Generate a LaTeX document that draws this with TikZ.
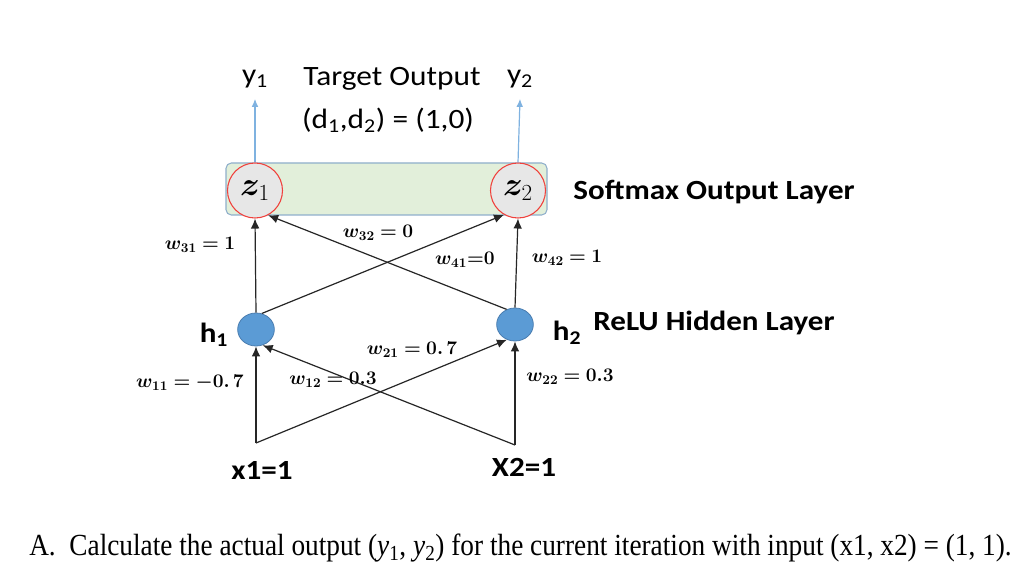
\documentclass[tikz,border=0pt]{standalone}
\usepackage{fontspec}
\usepackage{amsmath,bm}
\setmainfont{Carlito}
\newfontfamily\widef[FakeStretch=1.12]{Carlito}
\newfontfamily\tnr[FakeStretch=0.89]{Liberation Serif}
\usetikzlibrary{shapes.geometric,arrows.meta,calc}
\definecolor{boxfill}{HTML}{E2EFDA}
\definecolor{boxline}{HTML}{8FAFCB}
\definecolor{zfill}{HTML}{E7E7E7}
\definecolor{zline}{HTML}{F0403C}
\definecolor{hfill}{HTML}{5B9BD5}
\definecolor{hline}{HTML}{4A7DB0}
\definecolor{yarrow}{HTML}{7FB2E0}
\newcommand{\wlb}[2]{$\bm{w_{#1}#2}$}
\tikzset{
  zc/.style={circle, draw=zline, line width=0.8pt, fill=zfill, minimum size=41.25pt, inner sep=0pt},
  hc/.style={ellipse, draw=hline, line width=0.6pt, fill=hfill, minimum width=27.5pt, minimum height=24.75pt, inner sep=0pt},
  arr/.style={line width=0.9pt, draw=black!85, -{Latex[length=7.5pt,width=6.5pt]}},
  yarr/.style={line width=0.9pt, draw=yarrow, -{Latex[length=6pt,width=5pt]}},
  wlab/.style={font=\fontsize{14.5}{17}\selectfont, inner sep=0pt},
  biglab/.style={font=\widef\fontsize{21}{25}\selectfont, inner sep=0pt},
  boldlab/.style={font=\widef\bfseries\fontsize{20.8}{25}\selectfont, inner sep=0pt},
}
\begin{document}
\begin{tikzpicture}[x=0.75pt,y=-0.75pt]
\useasboundingbox (0,0) rectangle (1030,577);
\fill[white] (0,0) rectangle (1030,577);
% output box
\node[draw=boxline, line width=0.8pt, fill=boxfill, rounded corners=4pt, minimum width=240.75pt, minimum height=39pt, inner sep=0pt] (box) at (386.5,189) {};
\node[zc, font=\fontsize{24}{28}\selectfont] (z1) at (255,190.5) {$\bm{z}_{1}$};
\node[zc, font=\fontsize{24}{28}\selectfont] (z2) at (518,190.5) {$\bm{z}_{2}$};
% hidden nodes
\node[hc] (h1) at (256,329.5) {};
\node[hc] (h2) at (515,324.5) {};
% inputs
\coordinate (x1) at (256,443);
\coordinate (x2) at (515,445);
% output labels
\node[biglab] (y1) at (255,79) {y\textsubscript{1}};
\node[biglab] (y2) at (520,79) {y\textsubscript{2}};
\node[biglab] (tgt) at (392,79) {Target Output};
\node[biglab] (dd) at (388,120) {(d\textsubscript{1},d\textsubscript{2}) = (1,0)};
\draw[yarr] (z1.north) -- ([yshift=-8pt]y1.south);
\draw[yarr] (z2.north) -- ([yshift=-8pt]y2.south);
% layer labels
\node[boldlab] (soft) at (714,192) {Softmax Output Layer};
\node[boldlab] (relu) at (714,323) {ReLU Hidden Layer};
\node[boldlab] (h1l) at (214,335) {h\textsubscript{1}};
\node[boldlab] (h2l) at (567,333) {h\textsubscript{2}};
\node[boldlab] (x1l) at (262,470) {x1=1};
\node[boldlab] (x2l) at (524,467) {X2=1};
% connectors hidden -> output
\draw[arr] (h1.north) -- (z1.south);
\draw[arr] (h2.north) -- (z2.south);
\draw[arr] (h1.70) -- (z2.240);
\draw[arr] (h2.119) -- (z1.298);
% connectors input -> hidden
\draw[arr] (x1) -- (h1.south);
\draw[arr] (x2) -- (h2.south);
\draw[arr] (x1) -- (h2.242);
\draw[arr] (x2) -- (h1.293);
% weights
\node[wlab] (w31) at (200,245) {\wlb{31}{=1}};
\node[wlab] (w32) at (378,233) {\wlb{32}{=0}};
\node[wlab] (w41) at (465,260) {\wlb{41}{{=}0}};
\node[wlab] (w42) at (567,258) {\wlb{42}{=1}};
\node[wlab] (w11) at (190,383) {\wlb{11}{=-0.\,7}};
\node[wlab] (w12) at (333,380) {\wlb{12}{=0.3}};
\node[wlab] (w21) at (412,350) {\wlb{21}{=0.\,7}};
\node[wlab] (w22) at (570,377) {\wlb{22}{=0.3}};
% question
\node[font=\tnr\fontsize{23}{27}\selectfont, anchor=west, inner sep=0pt] (q) at (29,548) {A.\ \ Calculate the actual output (\textit{y}\textsubscript{1}, \textit{y}\textsubscript{2}) for the current iteration with input (x1, x2) = (1, 1).};
\end{tikzpicture}
\end{document}
